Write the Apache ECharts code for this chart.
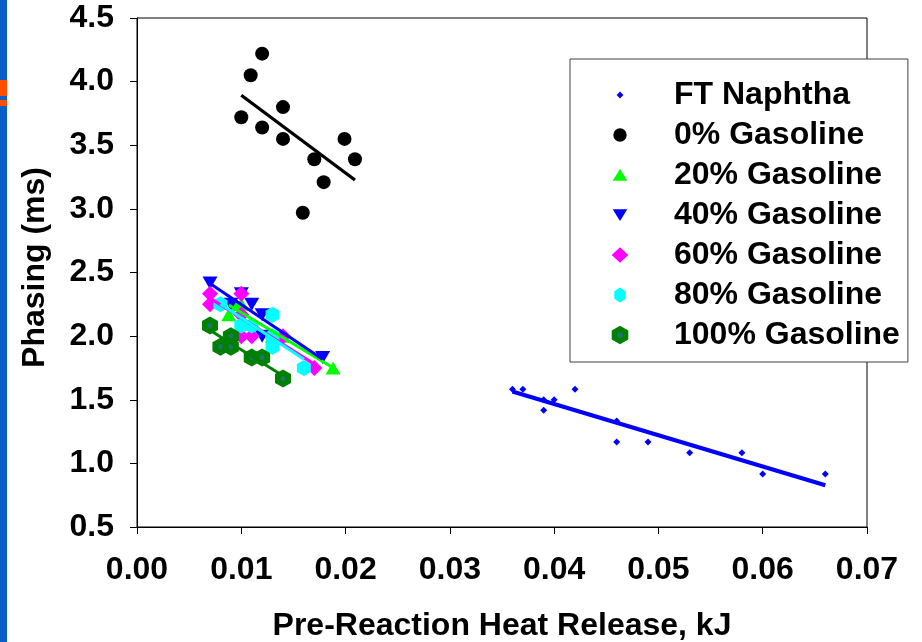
<!DOCTYPE html>
<html><head><meta charset="utf-8">
<script src="https://cdn.jsdelivr.net/npm/echarts@6/dist/echarts.min.js"></script>
<style>html,body{margin:0;padding:0;background:#fff}#c{width:922px;height:642px}</style>
</head><body><div id="c"></div>
<script>
// ---- data ----
const xTickLabels = ['0.00','0.01','0.02','0.03','0.04','0.05','0.06','0.07'];
const yTickLabels = ['0.5','1.0','1.5','2.0','2.5','3.0','3.5','4.0','4.5'];

const seriesNames = ['FT Naphtha','0% Gasoline','20% Gasoline','40% Gasoline','60% Gasoline','80% Gasoline','100% Gasoline'];

const ftX = [0.036,0.037,0.039,0.039,0.040,0.042,0.046,0.046,0.049,0.053,0.058,0.060,0.066];
const ftY = [1.583,1.583,1.500,1.417,1.500,1.583,1.333,1.167,1.167,1.083,1.083,0.917,0.917];

const g0X = [0.0100,0.0109,0.0120,0.0120,0.0140,0.0140,0.0159,0.0170,0.0179,0.0199,0.0209];
const g0Y = [3.72,4.05,4.22,3.64,3.80,3.55,2.97,3.39,3.21,3.55,3.39];

const g20X = [0.0088,0.0095,0.0100,0.0130,0.0140,0.0188];
const g20Y = [2.167,2.250,2.250,2.000,2.000,1.750];

const g40X = [0.0070,0.0090,0.0100,0.0110,0.0120,0.0120,0.0178];
const g40Y = [2.417,2.250,2.333,2.250,2.167,2.000,1.833];

const g60X = [0.0070,0.0070,0.0100,0.0100,0.0100,0.0110,0.0140,0.0170];
const g60Y = [2.333,2.250,2.333,2.167,2.000,2.000,2.000,1.750];

const g80X = [0.0080,0.0100,0.0110,0.0130,0.0130,0.0130,0.0160];
const g80Y = [2.250,2.083,2.083,2.167,2.000,1.917,1.750];

const g100X = [0.0070,0.0080,0.0090,0.0090,0.0110,0.0120,0.0140];
const g100Y = [2.083,1.917,2.000,1.917,1.833,1.833,1.667];

// ---- helpers ----
function pairs(xs, ys){ return xs.map((x,i)=>[x, ys[i]]); }
function fit(xs, ys){
  const n = xs.length;
  const mx = xs.reduce((a,b)=>a+b,0)/n, my = ys.reduce((a,b)=>a+b,0)/n;
  let sxy=0, sxx=0;
  for(let i=0;i<n;i++){ sxy += (xs[i]-mx)*(ys[i]-my); sxx += (xs[i]-mx)*(xs[i]-mx); }
  const b = sxy/sxx, a = my - b*mx;
  const x0 = Math.min(...xs), x1 = Math.max(...xs);
  return [[x0, a+b*x0],[x1, a+b*x1]];
}

const HEX = 'path://M0,-10L8.66,-5L8.66,5L0,10L-8.66,5L-8.66,-5Z';
const DOWN = 'path://M-1,-0.866L1,-0.866L0,0.866Z';
const PH = 'M-10,-10M10,10';
const icons = [
  'path://'+PH+'M0,-3.4L3.4,0L0,3.4L-3.4,0Z',
  'path://'+PH+'M-6.7,0A6.7,6.7,0,1,1,6.7,0A6.7,6.7,0,1,1,-6.7,0Z',
  'path://'+PH+'M0,-6L7.3,5.7L-7.3,5.7Z',
  'path://'+PH+'M-7.3,-5.7L7.3,-5.7L0,6Z',
  'path://'+PH+'M0,-7.8L8.3,0L0,7.8L-8.3,0Z',
  'path://'+PH+'M0,-7.5L5.7,-3.75L5.7,3.75L0,7.5L-5.7,3.75L-5.7,-3.75Z',
  'path://'+PH+'M0,-9.2L8.3,-4.6L8.3,4.6L0,9.2L-8.3,4.6L-8.3,-4.6Z'
];

const darkGreen = {type:'radial', x:0.5, y:0.5, r:0.5, colorStops:[
  {offset:0, color:'#17756a'},{offset:0.26, color:'#17756a'},{offset:0.34, color:'#008000'},{offset:1, color:'#008000'}]};

const groups = [
  {x:ftX, y:ftY, color:'#0000FF', symbol:'diamond', size:[7,7], lw:4},
  {x:g0X, y:g0Y, color:'#000000', symbol:'circle', size:14, lw:3.3},
  {x:g20X, y:g20Y, color:'#00FF00', symbol:'triangle', size:[15,13], lw:3},
  {x:g40X, y:g40Y, color:'#0000FF', symbol:DOWN, size:[15,13], lw:3},
  {x:g60X, y:g60Y, color:'#FF00FF', symbol:'diamond', size:[16,16], lw:3},
  {x:g80X, y:g80Y, color:'#00FFFF', symbol:HEX, size:[14,16], lw:3},
  {x:g100X, y:g100Y, color:darkGreen, lineColor:'#008000', symbol:HEX, size:[16,18], lw:3}
];

const FONT = 'Liberation Sans, Arial, sans-serif';
const series = [];
groups.forEach((g,i)=>{
  series.push({
    name: seriesNames[i], type:'scatter', data: pairs(g.x, g.y),
    symbol: g.symbol, symbolSize: g.size, z: 2,
    itemStyle: {color: g.color, opacity: 1}, emphasis:{disabled:true}
  });
});
groups.forEach((g,i)=>{
  series.push({
    name: seriesNames[i] + ' trend', type:'line', data: fit(g.x, g.y),
    showSymbol:false, symbol:'none', silent:true, z: 3,
    lineStyle: {color: g.lineColor || g.color, width: g.lw}, emphasis:{disabled:true}
  });
});

const chart = echarts.init(document.getElementById('c'), null, {renderer:'canvas'});
chart.setOption({
  animation:false,
  backgroundColor:'#ffffff',
  graphic:[
    {type:'rect', left:0, top:0, shape:{width:7, height:642}, style:{fill:'#0A5EC6'}},
    {type:'rect', left:0, top:80, shape:{width:7, height:16}, style:{fill:'#FF4E00'}},
    {type:'rect', left:0, top:100, shape:{width:7, height:6}, style:{fill:'#FF4E00'}}
  ],
  grid:{left:137, right:55, top:18, bottom:115, show:true, borderColor:'#000', borderWidth:1, backgroundColor:'transparent', containLabel:false, outerBoundsMode:'none'},
  legend:{
    orient:'vertical', left:570, top:59,
    padding:[20,8,11,40],
    backgroundColor:'#ffffff', borderColor:'#404040', borderWidth:1,
    itemWidth:20, itemHeight:20, itemGap:8, selectedMode:false,
    data: seriesNames.map((n,i)=>({name:n, icon: icons[i]})),
    textStyle:{fontFamily:FONT, fontWeight:'bold', fontSize:32, color:'#000', lineHeight:32, padding:[0,0,0,39]}
  },
  xAxis:{
    type:'value', min:0, max:0.07, interval:0.01,
    name:'Pre-Reaction Heat Release, kJ', nameLocation:'middle', nameGap:83,
    nameTextStyle:{fontFamily:FONT, fontWeight:'bold', fontSize:32, color:'#000'},
    axisLine:{show:true, lineStyle:{color:'#000', width:1}},
    axisTick:{show:true, inside:false, length:7, lineStyle:{color:'#000'}},
    splitLine:{show:false},
    axisLabel:{margin:27, fontFamily:FONT, fontWeight:'bold', fontSize:32, color:'#000',
      formatter:(v)=>xTickLabels[Math.round(v/0.01)]}
  },
  yAxis:{
    type:'value', min:0.5, max:4.5, interval:0.5,
    name:'Phasing (ms)', nameLocation:'middle', nameGap:86, nameRotate:90,
    nameTextStyle:{fontFamily:FONT, fontWeight:'bold', fontSize:32, color:'#000', padding:[0,0,0,10]},
    axisLine:{show:true, lineStyle:{color:'#000', width:1}},
    axisTick:{show:true, inside:false, length:7, lineStyle:{color:'#000'}},
    splitLine:{show:false},
    axisLabel:{margin:23, fontFamily:FONT, fontWeight:'bold', fontSize:32, color:'#000',
      formatter:(v)=>yTickLabels[Math.round((v-0.5)/0.5)]}
  },
  series: series
});
</script>
</body></html>
